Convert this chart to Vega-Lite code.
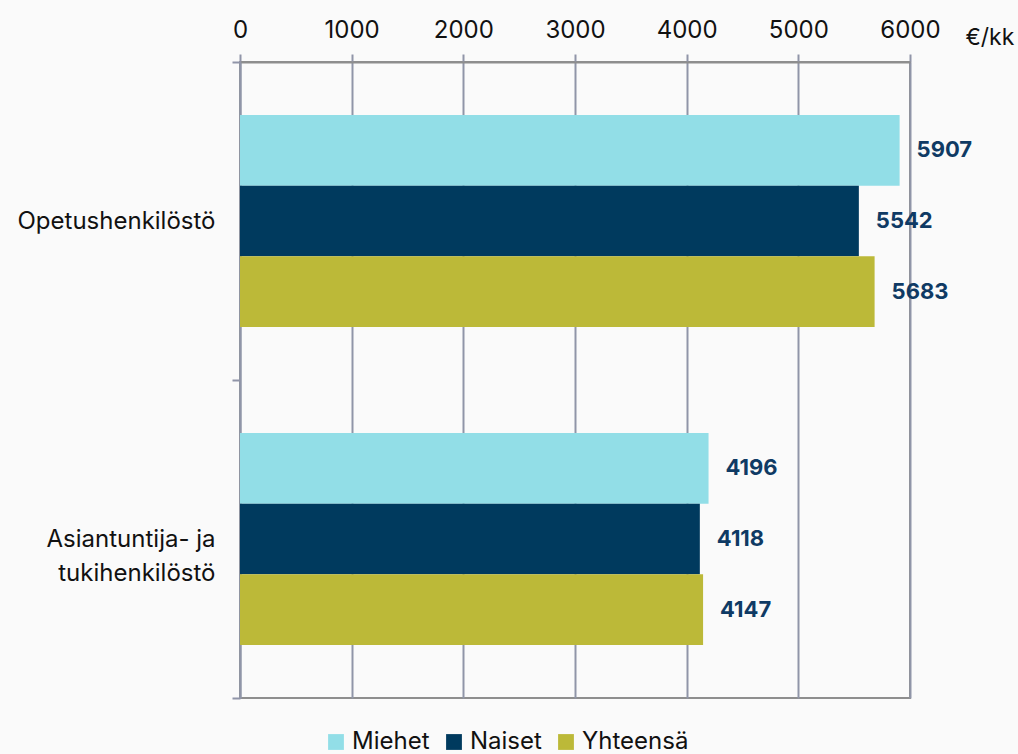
{
  "$schema": "https://vega.github.io/schema/vega-lite/v6.json",
  "autosize": {"type": "none"},
  "width": 670,
  "height": 636,
  "padding": {"left": 240, "top": 62, "right": 108, "bottom": 56},
  "background": "#FAFAFA",
  "config": {
    "font": "Inter",
    "view": {"stroke": "#8E8E8E", "strokeWidth": 2}
  },
  "data": {
    "values": [
      {"ryhma": "Opetushenkilöstö", "sukupuoli": "Miehet", "palkka": 5907},
      {"ryhma": "Opetushenkilöstö", "sukupuoli": "Naiset", "palkka": 5542},
      {"ryhma": "Opetushenkilöstö", "sukupuoli": "Yhteensä", "palkka": 5683},
      {"ryhma": "Asiantuntija- ja tukihenkilöstö", "sukupuoli": "Miehet", "palkka": 4196},
      {"ryhma": "Asiantuntija- ja tukihenkilöstö", "sukupuoli": "Naiset", "palkka": 4118},
      {"ryhma": "Asiantuntija- ja tukihenkilöstö", "sukupuoli": "Yhteensä", "palkka": 4147}
    ]
  },
  "encoding": {
    "y": {
      "field": "ryhma",
      "type": "nominal",
      "sort": ["Opetushenkilöstö", "Asiantuntija- ja tukihenkilöstö"],
      "scale": {"paddingInner": 0, "paddingOuter": 0},
      "axis": {
        "title": null,
        "tickBand": "extent",
        "tickSize": 8,
        "tickWidth": 2,
        "tickColor": "#9095A8",
        "domainColor": "#9095A8",
        "domainWidth": 2,
        "labelFontSize": 24,
        "labelColor": "#111111",
        "labelPadding": 17,
        "labelLimit": 300,
        "labelLineHeight": 34,
        "labelExpr": "datum.value == 'Asiantuntija- ja tukihenkilöstö' ? ['Asiantuntija- ja', 'tukihenkilöstö'] : datum.value"
      }
    },
    "yOffset": {
      "field": "sukupuoli",
      "type": "nominal",
      "sort": ["Miehet", "Naiset", "Yhteensä"],
      "scale": {"paddingInner": 0, "paddingOuter": 0.75}
    },
    "x": {
      "field": "palkka",
      "type": "quantitative",
      "scale": {"domain": [0, 6000], "nice": false},
      "axis": {
        "orient": "top",
        "values": [0, 1000, 2000, 3000, 4000, 5000, 6000],
        "format": "d",
        "title": "€/kk",
        "titleX": 725,
        "titleY": -25,
        "titleAlign": "left",
        "titleBaseline": "middle",
        "titleFontSize": 23,
        "titleFontWeight": "normal",
        "titleColor": "#111111",
        "grid": true,
        "gridColor": "#9095A8",
        "gridWidth": 2,
        "tickSize": 8,
        "tickWidth": 2,
        "tickColor": "#9095A8",
        "domainColor": "#8E8E8E",
        "domainWidth": 2,
        "labelFontSize": 24,
        "labelColor": "#111111",
        "labelPadding": 12,
        "labelFlush": false
      }
    }
  },
  "layer": [
    {
      "mark": {"type": "bar"},
      "encoding": {
        "color": {
          "field": "sukupuoli",
          "type": "nominal",
          "sort": ["Miehet", "Naiset", "Yhteensä"],
          "scale": {"domain": ["Miehet", "Naiset", "Yhteensä"], "range": ["#92DEE7", "#003A5E", "#BCB938"]},
          "legend": {
            "title": null,
            "orient": "none",
            "direction": "horizontal",
            "legendX": 84,
            "legendY": 668,
            "symbolType": "square",
            "symbolSize": 250,
            "symbolStrokeWidth": 0,
            "labelFontSize": 24,
            "labelColor": "#111111",
            "labelOffset": 4,
            "columnPadding": 12
          }
        }
      }
    },
    {
      "mark": {"type": "text", "align": "left", "baseline": "middle", "dx": 17, "fontSize": 22, "fontWeight": "bold", "color": "#0F3A64"},
      "encoding": {
        "text": {"field": "palkka", "type": "quantitative"}
      }
    }
  ]
}
